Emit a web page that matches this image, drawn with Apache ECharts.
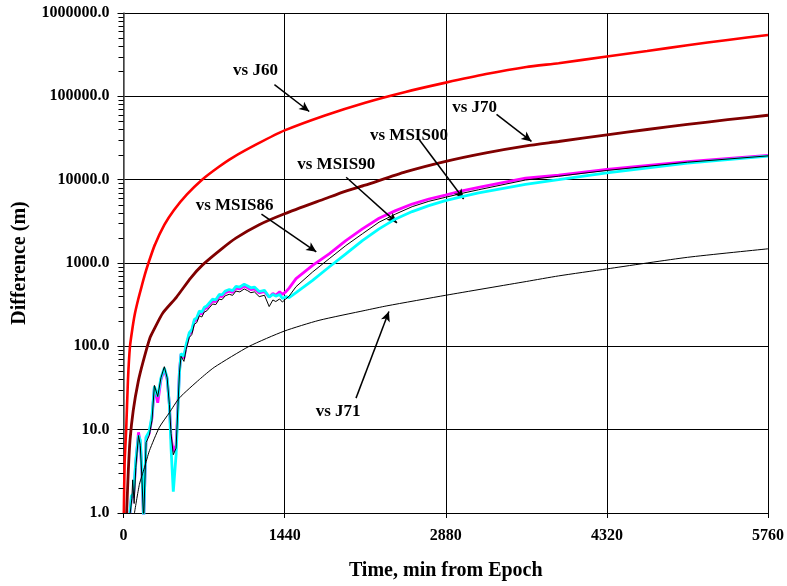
<!DOCTYPE html>
<html>
<head>
<meta charset="utf-8">
<script src="https://cdn.jsdelivr.net/npm/echarts@6/dist/echarts.min.js"></script>
<style>
html,body{margin:0;padding:0;background:#fff;}
#chart{width:787px;height:586px;}
</style>
</head>
<body>
<div id="chart"></div>
<script>
// ---- Data ----
const xTicks = [0, 1440, 2880, 4320, 5760];
const yTicks = [1, 10, 100, 1000, 10000, 100000, 1000000];
const yMinorTicks = [2,3,4,5,6,7,8,9, 20,30,40,50,60,70,80,90, 200,300,400,500,600,700,800,900,
  2000,3000,4000,5000,6000,7000,8000,9000, 20000,30000,40000,50000,60000,70000,80000,90000,
  200000,300000,400000,500000,600000,700000,800000,900000];

const tJ60 = [3, 10, 24, 40, 58, 80, 100, 130, 158, 190, 223, 280, 366, 450, 567, 702, 850, 972, 1200, 1440, 1800, 2160, 2520, 2880, 3240, 3600, 3888, 4320, 4680, 5040, 5400, 5760];
const vJ60 = [1, 4, 10, 40, 100, 165, 240, 360, 500, 720, 1000, 1650, 2880, 4300, 6650, 10000, 14200, 18300, 27000, 39000, 59000, 84000, 113000, 146000, 185000, 225000, 250000, 300000, 350000, 410000, 475000, 545000];

const tJ70 = [28, 43, 58, 87, 132, 176, 236, 265, 350, 474, 600, 707, 883, 1004, 1213, 1440, 1800, 1987, 2160, 2520, 2880, 3240, 3600, 3888, 4320, 4680, 5040, 5400, 5760];
const vJ70 = [1, 3.2, 7.4, 17, 38, 66, 126, 152, 250, 390, 660, 950, 1500, 1990, 2880, 3900, 5900, 7300, 8600, 12400, 16600, 21000, 25500, 28700, 34500, 40000, 46000, 52500, 59300];

const tMSIS86 = [58, 70, 90, 110, 134, 150, 165, 180, 202, 230, 255, 276, 306, 335, 365, 390, 410, 425, 445, 470, 500, 514, 540, 560, 588, 610, 633, 655, 678, 700, 722, 745, 767, 796, 825, 856, 880, 910, 945, 975, 1005, 1040, 1079, 1110, 1138, 1170, 1213, 1260, 1302, 1335, 1361, 1395, 1420, 1450, 1480, 1542, 1690, 1838, 1987, 2135, 2284, 2432, 2580, 2729, 2877, 3025, 3174, 3592, 3888, 4320, 5040, 5760];
const vMSIS86 = [1, 1.5, 1.6, 4, 9.3, 7, 3, 0.8, 8, 9, 14, 32, 21, 40, 53, 40, 20, 8, 5.5, 6.5, 51, 80, 72, 100, 139, 150, 200, 210, 253, 245, 280, 290, 316, 350, 345, 400, 395, 440, 458, 445, 500, 490, 530, 505, 480, 490, 438, 455, 390, 430, 410, 450, 420, 450, 500, 650, 936, 1290, 1860, 2570, 3440, 4250, 5100, 5860, 6540, 7360, 8080, 10400, 11300, 13300, 16500, 19500];

const tMSIS90 = [58, 70, 90, 110, 134, 150, 165, 180, 202, 230, 255, 276, 306, 335, 365, 390, 410, 425, 445, 470, 500, 514, 540, 560, 588, 610, 633, 655, 678, 700, 722, 745, 767, 796, 825, 856, 880, 910, 945, 975, 1005, 1040, 1079, 1110, 1138, 1170, 1213, 1260, 1302, 1335, 1361, 1395, 1420, 1450, 1480, 1542, 1690, 1838, 1987, 2135, 2284, 2432, 2580, 2729, 2877, 3025, 3174, 3592, 3888, 4320, 5040, 5760];
const vMSIS90 = [1, 1.6, 1.7, 4.3, 8.5, 7.5, 3.2, 0.8, 8.2, 9.5, 15, 33, 25, 42, 55, 42, 20, 6, 1.8, 5, 48, 82, 76, 105, 146, 158, 210, 220, 266, 257, 294, 305, 332, 368, 362, 420, 415, 462, 481, 467, 525, 515, 556, 530, 504, 515, 455, 470, 390, 420, 400, 420, 375, 395, 385, 440, 620, 895, 1290, 1860, 2570, 3380, 4140, 4880, 5610, 6270, 6950, 8790, 10000, 12100, 15800, 19200];

const tMSIS00 = [60, 75, 82, 95, 110, 134, 150, 165, 180, 202, 230, 255, 276, 306, 335, 365, 390, 410, 425, 445, 470, 500, 514, 540, 560, 588, 610, 633, 655, 678, 700, 722, 745, 767, 796, 825, 856, 880, 910, 945, 975, 1005, 1040, 1079, 1110, 1138, 1170, 1213, 1260, 1302, 1335, 1361, 1395, 1420, 1450, 1480, 1542, 1690, 1838, 1987, 2135, 2284, 2432, 2580, 2729, 2877, 3025, 3174, 3592, 3888, 4320, 5040, 5760];
const vMSIS00 = [1, 1.5, 2.5, 1.3, 3.5, 8.5, 6.5, 2.5, 0.8, 7, 8.5, 13, 34, 25, 42, 57, 42, 20, 9, 5, 6, 48, 76, 66, 92, 128, 138, 184, 193, 233, 225, 258, 267, 290, 322, 317, 368, 363, 405, 421, 409, 460, 450, 488, 465, 440, 450, 395, 410, 300, 360, 345, 370, 340, 370, 400, 520, 780, 1125, 1620, 2240, 3090, 3870, 4740, 5500, 6140, 6850, 7570, 9900, 11000, 12900, 16200, 19300];

const tJ71 = [98, 142, 187, 232, 321, 410, 499, 678, 811, 1123, 1435, 1747, 2160, 2354, 2880, 3600, 3888, 4320, 5040, 5760];
const vJ71 = [1, 2.2, 3.5, 5.6, 10.7, 16, 24, 40, 56, 100, 152, 205, 270, 306, 410, 600, 700, 850, 1170, 1480];

// Annotations (data coordinates): label, label anchor, arrow start, arrow tip
const annoLabels = ['vs J60', 'vs J70', 'vs MSIS00', 'vs MSIS90', 'vs MSIS86', 'vs J71'];
const annoText  = [[1180, 203000], [3138, 73400], [2551, 34000], [1901, 15300], [993, 4830], [1918, 16.3]];
const annoStart = [[1349, 138000], [3334, 60600], [2640, 30500], [1990, 10700], [1233, 3870], [2078, 23.9]];
const annoTip   = [[1660, 65800], [3646, 28800], [3040, 5850], [2444, 3030], [1723, 1360], [2372, 262]];

// ---- Build ----
const zip = (t, v) => t.map((x, i) => [x, v[i]]);
const FONT = '"Liberation Serif", "Times New Roman", serif';

function lineSeries(name, t, v, color, width, smooth, z) {
  return {
    name, type: 'line', data: zip(t, v), showSymbol: false, symbol: 'none',
    smooth: smooth, clip: true, z: z,
    lineStyle: { color, width }, itemStyle: { color }, animation: false
  };
}

const series = [
  lineSeries('vs J60', tJ60, vJ60, '#FF0000', 2.6, 0.2, 2),
  lineSeries('vs J70', tJ70, vJ70, '#800000', 2.8, 0.2, 3),
  lineSeries('vs MSIS86', tMSIS86, vMSIS86, '#FF00FF', 2.8, false, 4),
  lineSeries('vs MSIS90', tMSIS90, vMSIS90, '#00FFFF', 2.8, false, 5),
  lineSeries('vs MSIS00', tMSIS00, vMSIS00, '#000000', 1, false, 6),
  lineSeries('vs J71', tJ71, vJ71, '#000000', 1, 0.2, 7)
];

series[5].markLine = {
  silent: true, animation: false, symbol: ['none', 'arrow'], symbolSize: [7, 10],
  label: { show: false },
  lineStyle: { color: '#000', width: 1.5, type: 'solid' },
  data: annoStart.map((s, i) => [{ coord: s }, { coord: annoTip[i] }])
};
series[5].markPoint = {
  silent: true, animation: false, symbol: 'rect', symbolSize: 1,
  itemStyle: { color: 'rgba(0,0,0,0)' },
  label: { show: true, position: 'inside', formatter: '{b}', color: '#000',
           fontFamily: FONT, fontWeight: 'bold', fontSize: 17 },
  data: annoText.map((c, i) => ({ name: annoLabels[i], coord: c }))
};

const chart = echarts.init(document.getElementById('chart'), null, { renderer: 'canvas' });
chart.setOption({
  backgroundColor: '#fff',
  animation: false,
  grid: { left: 123.5, right: 16.5, top: 13, bottom: 70.5, containLabel: false },
  xAxis: {
    type: 'value', min: xTicks[0], max: xTicks[xTicks.length - 1], interval: 1440,
    name: 'Time, min from Epoch', nameLocation: 'middle', nameGap: 48,
    nameTextStyle: { fontFamily: FONT, fontWeight: 'bold', fontSize: 20, color: '#000' },
    axisLine: { show: true, lineStyle: { color: '#000', width: 1 } },
    axisTick: { show: true, inside: false, length: 5, lineStyle: { color: '#000' } },
    axisLabel: { fontFamily: FONT, fontWeight: 'bold', fontSize: 16, color: '#000', margin: 15,
                 formatter: v => String(v) },
    splitLine: { show: true, lineStyle: { color: '#000', width: 1 } }
  },
  yAxis: {
    type: 'log', logBase: 10, min: yTicks[0], max: yTicks[yTicks.length - 1],
    name: 'Difference (m)', nameLocation: 'middle', nameGap: 94,
    nameTextStyle: { fontFamily: FONT, fontWeight: 'bold', fontSize: 20, color: '#000' },
    axisLine: { show: true, lineStyle: { color: '#555', width: 1.5 } },
    axisTick: { show: true, inside: false, length: 6, lineStyle: { color: '#000' } },
    axisLabel: { fontFamily: FONT, fontWeight: 'bold', fontSize: 16, color: '#000', margin: 14,
                 formatter: v => Number(v).toFixed(1) },
    splitLine: { show: true, lineStyle: { color: '#000', width: 1 } }
  },
  series: series
});

// Minor log ticks on the y axis (positions through the axis scale)
const axisX = chart.convertToPixel({ xAxisIndex: 0 }, xTicks[0]);
chart.setOption({
  graphic: yMinorTicks.map(v => {
    const y = Math.round(chart.convertToPixel({ yAxisIndex: 0 }, v)) + 0.5;
    return { type: 'line', silent: true, z: 100,
             shape: { x1: axisX - 5, y1: y, x2: axisX, y2: y },
             style: { stroke: '#000', lineWidth: 1 } };
  })
});
</script>
</body>
</html>
